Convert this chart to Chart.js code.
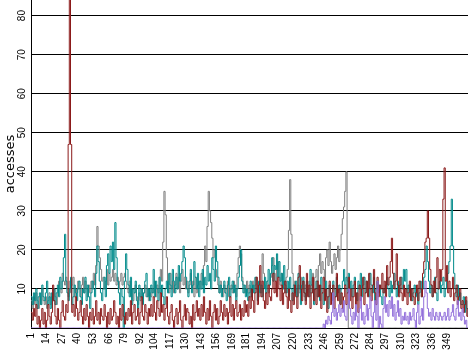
<!DOCTYPE html>
<html>
<head>
<meta charset="utf-8">
<script src="https://cdn.jsdelivr.net/npm/chart.js@4/dist/chart.umd.min.js"></script>
<style>
html,body{margin:0;padding:0;background:#fff;}
canvas{display:block;}
</style>
</head>
<body>
<canvas id="c" width="468" height="351" style="width:468px;height:351px"></canvas>
<script>
// categories: day numbers 1..366
const days = [];
for (let d = 1; d <= 366; d++) days.push(String(d));

// tick labels shown on the x axis
const tickLabels = ['1','14','27','40','53','66','79','92','104','117','130','143','156','169','181','194','207','220','233','246','259','272','284','297','310','323','336','349'];

// y axis tick values
const yTicks = [10,20,30,40,50,60,70,80];

const gray = [
7,5,8,6,9,7,5,8,6,10,7,6,8,5,7,9,6,8,7,10,
8,6,9,12,10,9,14,12,11,13,10,8,12,9,11,13,8,10,9,12,
10,8,11,13,9,12,10,8,11,9,12,10,14,11,16,26,21,18,15,12,
13,10,12,15,11,14,12,13,15,12,14,11,13,10,12,14,11,13,14,12,
10,9,12,8,10,7,9,11,8,6,9,7,10,8,9,11,8,10,7,9,
8,10,9,12,8,11,9,13,15,12,22,35,29,18,12,9,14,10,12,9,
11,14,10,13,9,12,15,11,13,10,12,9,11,14,10,12,8,13,9,11,
12,10,14,11,16,21,17,26,35,30,27,23,18,20,15,13,11,9,12,10,
8,11,9,10,12,8,10,11,9,12,10,8,14,18,21,19,13,11,9,10,
12,9,11,8,10,12,9,11,13,10,8,12,9,19,14,11,10,12,9,11,
13,16,18,14,12,15,17,13,11,14,10,12,9,13,15,25,38,24,14,11,
12,10,8,11,9,13,10,12,8,11,9,10,12,9,11,14,10,13,15,12,
16,19,14,17,15,12,18,20,16,22,17,14,16,19,15,18,21,17,20,24,
28,31,35,40,12,0,
0,0,0,0,0,0,0,0,0,0,0,0,0,0,0,0,0,0,0,0,
0,0,0,0,0,0,0,0,0,0,0,0,0,0,0,0,0,0,0,0,
0,0,0,0,0,0,0,0,0,0,0,0,0,0,0,0,0,0,0,0,
0,0,0,0,0,0,0,0,0,0,0,0,0,0,0,0,0,0,0,0,
0,0,0,0,0,0,0,0,0,0,0,0,0,0,0,0,0,0,0,0
];

const teal = [
8,6,9,7,10,5,8,9,6,11,8,7,9,12,6,8,5,9,7,10,
6,9,11,8,13,10,12,18,24,12,9,7,10,13,6,8,11,9,7,10,
12,8,6,10,9,13,7,11,8,5,9,12,10,8,14,21,17,12,9,7,
10,13,8,16,19,14,21,17,22,15,27,18,12,9,6,10,8,0,12,19,
15,11,8,13,6,10,9,12,7,5,11,8,10,6,9,12,14,8,10,7,
11,9,15,8,12,10,7,13,9,11,8,6,10,12,9,14,11,8,15,12,
9,13,10,16,12,14,17,21,18,13,10,8,12,15,9,11,17,13,10,14,
8,12,10,15,9,13,11,16,12,14,10,18,15,12,21,17,13,9,11,8,
10,12,9,7,11,13,8,10,12,9,11,7,10,13,16,20,12,9,11,8,
10,7,9,12,8,11,9,13,10,7,12,9,11,8,10,13,9,12,15,11,
14,18,12,16,15,19,13,17,12,14,10,16,11,9,12,8,13,10,7,11,
9,12,8,14,10,6,11,13,9,7,12,10,8,15,11,9,6,10,12,8,
11,7,13,9,6,10,12,8,5,11,9,7,12,10,8,13,9,11,6,10,
12,15,11,13,9,14,10,12,8,11,13,9,7,12,10,14,8,11,13,9,
12,10,8,14,11,9,13,7,10,12,9,11,8,6,10,9,11,13,10,8,
12,9,11,14,10,8,12,9,11,13,10,15,12,15,9,11,8,10,7,9,
11,8,10,6,9,12,8,10,13,15,21,17,12,9,11,8,10,13,9,7,
10,12,9,11,13,8,10,12,14,17,21,33,21,14,10,8,11,7,9,6,
6,8,4,7,5,3
];

const red = [
4,2,5,3,6,1,3,0,2,5,1,4,0,2,6,3,1,4,11,7,
3,1,5,2,0,4,7,3,2,6,4,47,150,47,4,6,3,8,5,2,
4,7,3,1,5,2,6,3,0,4,2,5,1,3,7,2,4,1,5,3,
2,6,3,0,4,1,5,2,3,7,4,1,3,0,5,2,6,3,1,4,
2,5,3,7,1,4,6,2,3,5,1,4,8,3,2,6,4,1,5,3,
6,3,8,4,2,7,5,3,9,4,6,2,5,8,3,1,4,6,2,0,
3,5,1,4,7,2,0,3,6,2,5,4,1,3,0,6,2,4,7,3,
5,2,6,3,8,4,1,5,2,7,3,0,4,6,2,5,1,3,7,4,
2,6,3,5,1,4,8,3,6,2,5,7,3,4,6,2,5,3,7,4,
6,3,8,5,10,7,4,9,13,6,11,16,8,12,7,5,9,6,11,8,
7,10,14,9,12,8,13,10,7,11,6,9,12,8,5,10,7,4,9,6,
11,8,5,13,16,10,7,12,9,6,14,8,11,5,9,13,7,10,6,12,
8,11,5,9,13,7,10,4,8,12,6,9,11,5,8,14,7,10,6,9,
5,8,11,6,9,13,7,10,5,8,12,6,9,4,11,7,10,13,6,9,
12,8,14,10,7,11,15,9,6,13,8,11,10,14,9,12,8,16,11,13,
17,23,14,10,12,19,11,8,13,9,7,11,8,10,6,9,12,7,10,8,
6,9,11,7,12,10,8,14,17,22,23,30,23,15,11,8,12,9,13,18,
10,15,12,15,33,41,12,16,9,12,8,10,13,7,9,11,6,8,10,5,
7,4,6,8,3,5
];

const purple = [
0,0,0,0,0,0,0,0,0,0,0,0,0,0,0,0,0,0,0,0,
0,0,0,0,0,0,0,0,0,0,0,0,0,0,0,0,0,0,0,0,
0,0,0,0,0,0,0,0,0,0,0,0,0,0,0,0,0,0,0,0,
0,0,0,0,0,0,0,0,0,0,0,0,0,0,0,0,0,0,0,0,
0,0,0,0,0,0,0,0,0,0,0,0,0,0,0,0,0,0,0,0,
0,0,0,0,0,0,0,0,0,0,0,0,0,0,0,0,0,0,0,0,
0,0,0,0,0,0,0,0,0,0,0,0,0,0,0,0,0,0,0,0,
0,0,0,0,0,0,0,0,0,0,0,0,0,0,0,0,0,0,0,0,
0,0,0,0,0,0,0,0,0,0,0,0,0,0,0,0,0,0,0,0,
0,0,0,0,0,0,0,0,0,0,0,0,0,0,0,0,0,0,0,0,
0,0,0,0,0,0,0,0,0,0,0,0,0,0,0,0,0,0,0,0,
0,0,0,0,0,0,0,0,0,0,0,0,0,0,0,0,0,0,0,0,
0,0,0,0,
1,0,2,1,3,2,1,4,9,3,5,2,4,6,3,5,
4,7,3,2,6,10,5,3,1,4,2,6,3,0,5,8,2,4,1,3,
6,2,5,8,3,0,4,7,2,12,0,3,1,0,5,8,4,6,3,7,
5,8,3,6,2,4,7,3,5,1,3,2,4,2,3,1,4,2,3,5,
2,0,4,6,1,3,5,2,8,12,9,5,3,4,2,5,3,2,4,3,
2,4,3,2,3,4,2,3,5,2,3,4,6,3,2,5,7,3,4,2,
5,3,1,2,0,0
];

const tickSet = new Set(tickLabels);
const tickFont = {family: 'Liberation Sans', size: 10};

function ds(data, color) {
  return {data: data, borderColor: color, backgroundColor: color, borderWidth: 1,
          pointRadius: 0, pointHitRadius: 0, stepped: true, tension: 0, fill: false};
}

new Chart(document.getElementById('c').getContext('2d'), {
  type: 'line',
  data: {
    labels: days,
    datasets: [
      ds(purple, '#9370db'),
      ds(red, '#8b1a1a'),
      ds(teal, '#008b8b'),
      ds(gray, '#808080')
    ]
  },
  options: {
    responsive: false,
    animation: false,
    events: [],
    layout: {padding: 0},
    plugins: {legend: {display: false}, tooltip: {enabled: false}},
    scales: {
      x: {
        grid: {display: false, drawTicks: false},
        border: {display: true, color: '#000', width: 1},
        ticks: {
          autoSkip: false, maxRotation: 90, minRotation: 90, padding: 5,
          color: '#000', font: tickFont,
          callback: (v, i) => tickSet.has(days[i]) ? days[i] : ''
        },
        afterFit: s => { s.height = 23; s.paddingLeft = 0; s.paddingRight = 0; }
      },
      y: {
        min: 0, max: 84,
        grid: {color: '#000', lineWidth: 1, drawTicks: false},
        border: {display: true, color: '#000', width: 1},
        ticks: {
          stepSize: 10, includeBounds: false, minRotation: 90, maxRotation: 90,
          crossAlign: 'center', padding: 3, color: '#000', font: tickFont,
          callback: v => yTicks.includes(v) ? String(v) : ''
        },
        title: {display: true, text: 'accesses', color: '#000',
                font: {family: 'DejaVu Sans', size: 13}, padding: {top: 3, bottom: 0}},
        afterFit: s => { s.width = 31; s.paddingTop = 0; s.paddingBottom = 0; }
      }
    }
  }
});
</script>
</body>
</html>
